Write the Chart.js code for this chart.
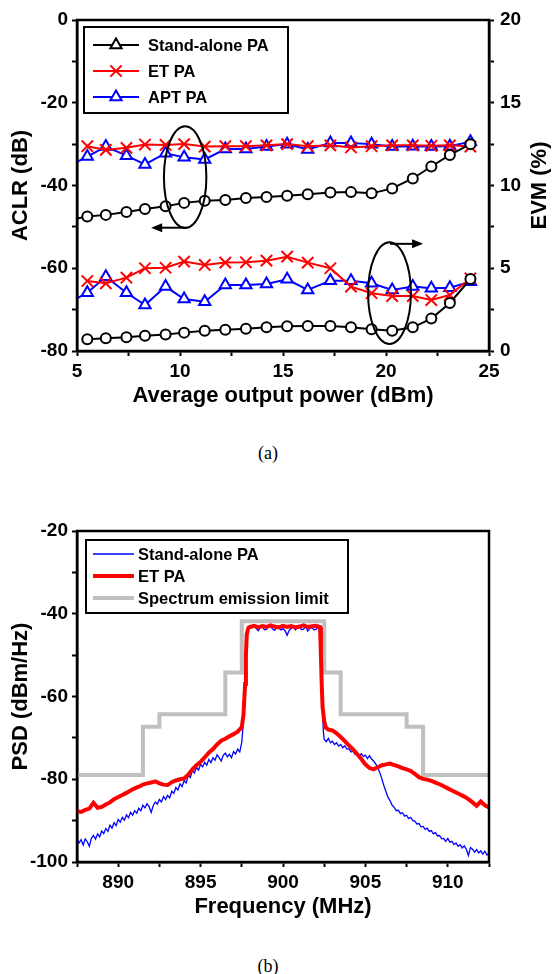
<!DOCTYPE html>
<html>
<head>
<meta charset="utf-8">
<script src="https://cdn.jsdelivr.net/npm/chart.js@4/dist/chart.umd.min.js"></script>
<style>
  html, body { margin: 0; padding: 0; background: #fff; }
  body { width: 552px; height: 974px; position: relative; overflow: hidden; }
  canvas { position: absolute; left: 0; }
  .cap { position: absolute; left: 0; width: 536px; text-align: center;
         font-family: "Liberation Serif", "Times New Roman", serif; font-size: 18px; color: #000; }
</style>
</head>
<body>
<canvas id="c1" width="552" height="430" style="top:0px"></canvas>
<div class="cap" style="top:443px">(a)</div>
<canvas id="c2" width="552" height="460" style="top:470px"></canvas>
<div class="cap" style="top:956px">(b)</div>
<script>
// ---------------- DATA: (a) ACLR / EVM vs output power ----------------
const power = [5.5, 6.4, 7.4, 8.3, 9.3, 10.2, 11.2, 12.2, 13.2, 14.2, 15.2, 16.2, 17.3, 18.3, 19.3, 20.3, 21.3, 22.2, 23.1, 24.1];
const powerEdge = [5.0].concat(power);   // lines that start at the left frame

const aclrStandalone = [-48.0, -47.5, -47.1, -46.4, -45.7, -45.0, -44.2, -43.7, -43.5, -43.0, -42.8, -42.5, -42.1, -41.7, -41.6, -41.9, -40.7, -38.3, -35.4, -32.6, -30.0];
const aclrET  = [-30.5, -31.4, -30.9, -30.1, -30.2, -30.0, -30.6, -30.5, -30.5, -30.3, -30.0, -30.5, -30.3, -30.8, -30.5, -30.3, -30.3, -30.4, -30.3, -30.6];
const aclrAPT = [-34.3, -33.0, -30.6, -32.8, -34.9, -32.2, -33.2, -33.7, -31.2, -31.2, -30.6, -30.0, -31.3, -29.7, -29.7, -30.0, -30.6, -30.5, -30.6, -30.5, -29.4];

const evmStandalone = [0.71, 0.77, 0.83, 0.92, 1.00, 1.11, 1.23, 1.29, 1.35, 1.43, 1.49, 1.51, 1.51, 1.43, 1.31, 1.23, 1.43, 1.96, 2.90, 4.35];
const evmET  = [4.23, 4.09, 4.43, 5.00, 5.03, 5.40, 5.20, 5.34, 5.36, 5.46, 5.70, 5.34, 5.00, 3.89, 3.49, 3.32, 3.32, 3.08, 3.38, 4.39];
const evmAPT = [3.18, 3.52, 4.49, 3.52, 2.78, 3.89, 3.14, 2.98, 3.99, 3.99, 4.05, 4.33, 3.69, 4.25, 4.25, 4.09, 3.69, 3.89, 3.79, 3.82, 4.19];

const seriesNames = ['Stand-alone PA', 'ET PA', 'APT PA'];

// ---------------- DATA: (b) PSD vs frequency ----------------
const psdFreq = [
  887.5, 887.75, 888, 888.25, 888.5, 888.75, 889, 889.25, 889.5, 889.75,
  890, 890.25, 890.5, 890.75, 891, 891.25, 891.5, 891.75, 892, 892.25,
  892.5, 892.75, 893, 893.25, 893.5, 893.75, 894, 894.25, 894.5, 894.75,
  895, 895.25, 895.5, 895.75, 896, 896.25, 896.5, 896.75, 897, 897.25, 897.5,
  897.6, 897.7, 897.75, 897.8, 897.9,
  898, 898.25, 898.5, 898.75, 899, 899.25, 899.5, 899.75, 900, 900.25,
  900.5, 900.75, 901, 901.25, 901.5, 901.75, 902, 902.25,
  902.3, 902.35, 902.4, 902.5,
  902.6, 902.75, 903, 903.25, 903.5, 903.75, 904, 904.25, 904.5, 904.75,
  905, 905.25, 905.5, 905.75, 906, 906.25, 906.5, 906.75, 907, 907.25,
  907.5, 907.75, 908, 908.25, 908.5, 908.75, 909, 909.25, 909.5, 909.75,
  910, 910.25, 910.5, 910.75, 911, 911.25, 911.5, 911.75, 912, 912.25, 912.5
];
const psdET = [
  -87.7, -87.9, -87.4, -87.1, -85.7, -86.9, -86.7, -86.1, -85.6, -84.8,
  -84.3, -83.8, -83.3, -82.7, -82.2, -81.8, -81.3, -81.0, -80.8, -80.5,
  -81.0, -81.3, -81.4, -80.7, -80.3, -80.0, -79.8, -78.9, -77.6, -76.6,
  -75.8, -74.7, -73.6, -72.7, -71.6, -70.7, -70.2, -69.6, -69.1, -68.5, -67.4,
  -64.5, -57.0, -50.0, -45.0, -43.4,
  -43.2, -42.9, -43.3, -43.0, -43.2, -42.8, -43.1, -43.3, -42.9, -43.2,
  -43.0, -43.3, -43.1, -42.8, -43.2, -43.0, -42.9, -43.2,
  -50.0, -57.0, -62.5, -66.0,
  -67.5, -68.0, -68.2, -68.9, -69.8, -70.8, -71.8, -72.8, -73.9, -75.1,
  -76.4, -77.3, -77.6, -77.1, -76.6, -76.4, -76.2, -76.6, -76.9, -77.3,
  -77.6, -78.0, -78.7, -79.5, -79.9, -80.1, -80.4, -80.8, -81.2, -81.7,
  -82.2, -82.7, -83.2, -83.7, -84.2, -84.8, -85.6, -86.4, -85.4, -86.3, -86.8
];
// Stand-alone PA trace, read as [frequency (MHz), PSD (dBm/Hz)] pairs
const psdStandalone = [
  [887.5,-94.3],[887.625,-95.4],[887.75,-94.6],[887.875,-95.9],[888,-94.4],[888.125,-95.1],[888.25,-96.2],[888.375,-94.2],
  [888.5,-93.6],[888.625,-94.5],[888.75,-93.2],[888.875,-93.9],[889,-92.5],[889.125,-93.1],[889.25,-91.9],[889.375,-92.6],
  [889.5,-91.1],[889.625,-91.8],[889.75,-90.5],[889.875,-91.2],[890,-89.7],[890.125,-90.4],[890.25,-89.2],[890.375,-89.9],
  [890.5,-88.6],[890.625,-89.3],[890.75,-88.0],[890.875,-88.7],[891,-87.6],[891.125,-88.2],[891.25,-87.0],[891.375,-87.6],
  [891.5,-86.3],[891.625,-86.9],[891.75,-85.9],[891.875,-86.6],[892,-88.0],[892.125,-86.4],[892.25,-85.5],[892.375,-86.0],
  [892.5,-84.9],[892.625,-85.5],[892.75,-84.2],[892.875,-84.9],[893,-83.9],[893.125,-84.5],[893.25,-82.9],[893.375,-83.4],
  [893.5,-82.0],[893.625,-82.6],[893.75,-81.1],[893.875,-81.8],[894,-80.3],[894.125,-80.9],[894.25,-79.1],[894.375,-79.6],
  [894.5,-77.9],[894.625,-78.5],[894.75,-77.1],[894.875,-77.8],[895,-76.4],[895.125,-77.0],[895.25,-75.9],[895.375,-76.6],
  [895.5,-75.2],[895.625,-76.0],[895.75,-74.8],[895.875,-75.4],[896,-74.1],[896.125,-74.8],[896.25,-75.6],[896.375,-74.2],
  [896.5,-73.7],[896.625,-74.6],[896.75,-74.0],[896.875,-74.8],[897,-73.3],[897.125,-73.9],[897.25,-72.7],[897.375,-73.4],
  [897.5,-71.0],[897.6,-66.0],[897.7,-58.0],[897.75,-51.0],[897.8,-45.5],[897.9,-43.8],
  [898,-43.5],[898.125,-42.9],[898.25,-43.0],[898.375,-43.6],[898.5,-44.1],[898.625,-43.3],[898.75,-43.2],[898.875,-43.9],
  [899,-43.8],[899.125,-43.0],[899.25,-43.1],[899.375,-43.7],[899.5,-44.0],[899.625,-43.2],[899.75,-43.4],[899.875,-43.9],
  [900,-43.6],[900.125,-44.1],[900.25,-45.2],[900.375,-44.0],[900.5,-43.5],[900.625,-43.1],[900.75,-43.9],[900.875,-43.4],
  [901,-43.2],[901.125,-43.8],[901.25,-43.7],[901.375,-43.0],[901.5,-44.2],[901.625,-43.6],[901.75,-43.3],[901.875,-43.9],
  [902,-43.8],[902.125,-43.2],[902.25,-44.3],[902.3,-49.0],[902.35,-56.0],[902.4,-63.0],[902.45,-68.5],
  [902.5,-70.4],[902.625,-70.9],[902.75,-70.1],[902.875,-71.2],[903,-70.8],[903.125,-71.6],[903.25,-71.2],[903.375,-72.0],
  [903.5,-71.6],[903.625,-72.4],[903.75,-71.9],[903.875,-72.7],[904,-72.6],[904.125,-73.4],[904.25,-73.2],[904.375,-74.0],
  [904.5,-73.8],[904.625,-74.6],[904.75,-73.8],[904.875,-74.5],[905,-74.2],[905.125,-75.0],[905.25,-74.3],[905.375,-75.1],
  [905.5,-75.6],[905.625,-76.3],[905.75,-77.2],[905.875,-78.4],[906,-79.9],[906.125,-81.6],[906.25,-83.0],[906.375,-84.4],
  [906.5,-85.2],[906.625,-86.3],[906.75,-86.8],[906.875,-87.6],[907,-87.5],[907.125,-88.3],[907.25,-88.1],[907.375,-88.9],
  [907.5,-88.7],[907.625,-89.5],[907.75,-89.2],[907.875,-90.0],[908,-90.1],[908.125,-90.8],[908.25,-90.7],[908.375,-91.5],
  [908.5,-91.4],[908.625,-92.1],[908.75,-91.8],[908.875,-92.6],[909,-92.4],[909.125,-93.2],[909.25,-92.9],[909.375,-93.7],
  [909.5,-93.6],[909.625,-94.4],[909.75,-94.3],[909.875,-95.0],[910,-94.3],[910.125,-95.2],[910.25,-95.0],[910.375,-95.8],
  [910.5,-95.4],[910.625,-96.2],[910.75,-95.8],[910.875,-96.6],[911,-96.1],[911.125,-96.9],[911.25,-98.4],[911.375,-96.5],
  [911.5,-96.9],[911.625,-97.6],[911.75,-97.0],[911.875,-97.8],[912,-97.3],[912.125,-98.1],[912.25,-97.4],[912.375,-98.3],
  [912.5,-97.9]
];
const maskFreq  = [887.5, 891.5, 892.5, 896.5, 897.5, 902.5, 903.5, 907.5, 908.5, 912.5];
const maskLevel = [-79.0, -67.3, -64.3, -54.2, -41.8, -54.2, -64.3, -67.3, -79.0, -79.0];
const psdNames = ['Stand-alone PA', 'ET PA', 'Spectrum emission limit'];

// ---------------- helpers ----------------
const FONT = '"Liberation Sans", Arial, Helvetica, sans-serif';
const tickFont  = { family: FONT, size: 19, weight: 'bold' };
const titleFont = { family: FONT, size: 22, weight: 'bold' };
const gridOpts = { display: true, drawOnChartArea: false, drawTicks: true, tickLength: 5, tickWidth: 2, tickColor: '#000', color: '#000' };
const borderOpts = { display: true, color: '#000', width: 2.5 };
const pts = (xs, ys) => ys.map((v, i) => ({ x: xs[i], y: v }));

function drawMarker(ctx, style, r, x, y) {
  ctx.beginPath();
  if (style === 'circle') {
    ctx.arc(x, y, r, 0, Math.PI * 2);
    ctx.fill(); ctx.stroke();
  } else if (style === 'triangle') {
    for (let k = 0; k < 3; k++) {
      const a = k * 2 * Math.PI / 3;
      const px = x + Math.sin(a) * r, py = y - Math.cos(a) * r;
      if (k === 0) ctx.moveTo(px, py); else ctx.lineTo(px, py);
    }
    ctx.closePath(); ctx.fill(); ctx.stroke();
  } else if (style === 'crossRot') {
    const d = r * Math.SQRT1_2;
    ctx.moveTo(x - d, y - d); ctx.lineTo(x + d, y + d);
    ctx.moveTo(x + d, y - d); ctx.lineTo(x - d, y + d);
    ctx.stroke();
  }
}

const frameBox = {
  id: 'frameBox',
  afterDraw(chart) {
    const { ctx, chartArea: a } = chart;
    ctx.save();
    ctx.strokeStyle = '#000'; ctx.lineWidth = 2.5;
    ctx.strokeRect(a.left, a.top, a.right - a.left, a.bottom - a.top);
    ctx.restore();
  }
};

const boxLegend = {
  id: 'boxLegend',
  afterDraw(chart, args, o) {
    if (!o || !o.items) return;
    const { ctx, chartArea: a } = chart;
    const x0 = a.left + o.dx, y0 = a.top + o.dy;
    ctx.save();
    ctx.fillStyle = '#fff'; ctx.fillRect(x0, y0, o.w, o.h);
    ctx.strokeStyle = '#000'; ctx.lineWidth = 2; ctx.strokeRect(x0, y0, o.w, o.h);
    o.items.forEach((idx, i) => {
      const ds = chart.data.datasets[idx];
      const y = y0 + o.rowTop + i * o.rowGap;
      ctx.strokeStyle = ds.borderColor; ctx.lineWidth = ds.legendLineWidth || ds.borderWidth;
      ctx.beginPath(); ctx.moveTo(x0 + o.lineX0, y); ctx.lineTo(x0 + o.lineX1, y); ctx.stroke();
      const ps = ds.legendPointStyle || ds.pointStyle;
      if (ps && o.markers) {
        ctx.fillStyle = '#fff'; ctx.strokeStyle = ds.borderColor; ctx.lineWidth = 2;
        drawMarker(ctx, ps, ds.legendPointRadius || 6, x0 + (o.lineX0 + o.lineX1) / 2, y);
      }
      ctx.fillStyle = '#000'; ctx.font = 'bold 16.5px ' + FONT;
      ctx.textAlign = 'left'; ctx.textBaseline = 'middle';
      ctx.fillText(ds.label, x0 + o.textX, y + 1);
    });
    ctx.restore();
  }
};

const annot = {
  id: 'annot',
  afterDatasetsDraw(chart, args, o) {
    if (!o || !o.ellipses) return;
    const { ctx } = chart;
    const xs = chart.scales.x, ys = chart.scales.y;
    ctx.save();
    ctx.strokeStyle = '#000'; ctx.fillStyle = '#000'; ctx.lineWidth = 2;
    o.ellipses.forEach(e => {
      const cx = xs.getPixelForValue(e.x), cy = ys.getPixelForValue(e.y);
      const rx = Math.abs(xs.getPixelForValue(e.x + e.rx) - cx);
      const ry = Math.abs(ys.getPixelForValue(e.y + e.ry) - cy);
      ctx.beginPath(); ctx.ellipse(cx, cy, rx, ry, 0, 0, Math.PI * 2); ctx.stroke();
    });
    o.arrows.forEach(ar => {
      const x1 = xs.getPixelForValue(ar.x1), x2 = xs.getPixelForValue(ar.x2), y = ys.getPixelForValue(ar.y);
      const dir = Math.sign(x2 - x1);
      ctx.beginPath(); ctx.moveTo(x1, y); ctx.lineTo(x2 - dir * 8, y); ctx.stroke();
      ctx.beginPath(); ctx.moveTo(x2, y); ctx.lineTo(x2 - dir * 11, y - 4.5); ctx.lineTo(x2 - dir * 11, y + 4.5); ctx.closePath(); ctx.fill();
    });
    ctx.restore();
  }
};

const rightTitle = {
  id: 'rightTitle',
  afterDraw(chart, args, o) {
    if (!o || !o.text) return;
    const { ctx, chartArea: a } = chart;
    ctx.save();
    ctx.translate(o.x, (a.top + a.bottom) / 2);
    ctx.rotate(-Math.PI / 2);
    ctx.fillStyle = '#000'; ctx.font = 'bold 22px ' + FONT;
    ctx.textAlign = 'center'; ctx.textBaseline = 'middle';
    ctx.fillText(o.text, 0, 0);
    ctx.restore();
  }
};

// ---------------- Chart (a) ----------------
const edgeR = r => ctx => (ctx.dataIndex === 0 ? 0 : r);
new Chart(document.getElementById('c1'), {
  type: 'line',
  data: {
    datasets: [
      { label: seriesNames[0], yAxisID: 'y', data: pts(powerEdge, aclrStandalone), borderColor: '#000', borderWidth: 2,
        pointStyle: 'circle', pointRadius: edgeR(5), pointBackgroundColor: '#fff', pointBorderColor: '#000', pointBorderWidth: 2,
        legendPointStyle: 'triangle', legendPointRadius: 6.5 },
      { label: seriesNames[1], yAxisID: 'y', data: pts(power, aclrET), borderColor: '#ff0000', borderWidth: 2,
        pointStyle: 'crossRot', pointRadius: 8, pointBorderColor: '#ff0000', pointBackgroundColor: '#ff0000', pointBorderWidth: 2,
        legendPointRadius: 8 },
      { label: seriesNames[2], yAxisID: 'y', data: pts(powerEdge, aclrAPT), borderColor: '#0000ff', borderWidth: 2,
        pointStyle: 'triangle', pointRadius: edgeR(6.5), pointBackgroundColor: '#fff', pointBorderColor: '#0000ff', pointBorderWidth: 2,
        legendPointRadius: 6.5 },
      { label: seriesNames[0] + ' EVM', yAxisID: 'y2', data: pts(power, evmStandalone), borderColor: '#000', borderWidth: 2,
        pointStyle: 'circle', pointRadius: 5, pointBackgroundColor: '#fff', pointBorderColor: '#000', pointBorderWidth: 2 },
      { label: seriesNames[1] + ' EVM', yAxisID: 'y2', data: pts(power, evmET), borderColor: '#ff0000', borderWidth: 2,
        pointStyle: 'crossRot', pointRadius: 8, pointBorderColor: '#ff0000', pointBackgroundColor: '#ff0000', pointBorderWidth: 2 },
      { label: seriesNames[2] + ' EVM', yAxisID: 'y2', data: pts(powerEdge, evmAPT), borderColor: '#0000ff', borderWidth: 2,
        pointStyle: 'triangle', pointRadius: edgeR(6.5), pointBackgroundColor: '#fff', pointBorderColor: '#0000ff', pointBorderWidth: 2 }
    ]
  },
  options: {
    responsive: false, animation: false, events: [],
    layout: { padding: { top: 20, left: 0, right: 0, bottom: 21 } },
    plugins: {
      legend: { display: false }, tooltip: { enabled: false },
      boxLegend: { dx: 7, dy: 7, w: 204, h: 86, rowTop: 18, rowGap: 26, lineX0: 9, lineX1: 55, textX: 64, markers: true, items: [0, 1, 2] },
      annot: {
        ellipses: [ { x: 10.25, y: -38.0, rx: 1.03, ry: 12.3 }, { x: 20.17, y: -66.0, rx: 1.04, ry: 12.3 } ],
        arrows: [ { x1: 10.3, x2: 8.6, y: -50.2 }, { x1: 20.2, x2: 21.8, y: -54.1 } ]
      },
      rightTitle: { text: 'EVM (%)', x: 540 }
    },
    scales: {
      x: { type: 'linear', position: 'bottom', min: 5, max: 25,
        ticks: { stepSize: 2.5, autoSkip: false, maxRotation: 0, padding: 4, color: '#000', font: tickFont,
                 callback: v => (v % 5 === 0 ? String(v) : '') },
        grid: gridOpts, border: borderOpts,
        title: { display: true, text: 'Average output power (dBm)', color: '#000', font: titleFont, padding: 0 },
        afterFit: s => { s.height = 58; } },
      y: { type: 'linear', position: 'left', min: -80, max: 0,
        ticks: { stepSize: 10, autoSkip: false, padding: 4, color: '#000', font: tickFont,
                 callback: v => (v % 20 === 0 ? String(v) : '') },
        grid: gridOpts, border: borderOpts,
        title: { display: true, text: 'ACLR (dB)', color: '#000', font: titleFont, padding: { top: 8, bottom: 0 } },
        afterFit: s => { s.width = 77; } },
      y2: { type: 'linear', position: 'right', min: 0, max: 20,
        ticks: { stepSize: 2.5, autoSkip: false, padding: 6, color: '#000', font: tickFont,
                 callback: v => (v % 5 === 0 ? String(v) : '') },
        grid: gridOpts, border: borderOpts,
        title: { display: false, text: 'EVM (%)' },
        afterFit: s => { s.width = 63; } }
    }
  },
  plugins: [annot, frameBox, boxLegend, rightTitle]
});

// ---------------- Chart (b) ----------------
new Chart(document.getElementById('c2'), {
  type: 'line',
  data: {
    datasets: [
      { label: psdNames[1], data: pts(psdFreq, psdET), borderColor: '#ff0000', borderWidth: 4, pointRadius: 0, tension: 0 },
      { label: psdNames[0], data: psdStandalone.map(p => ({ x: p[0], y: p[1] })), borderColor: '#0000ff', borderWidth: 1.3, legendLineWidth: 1.5, pointRadius: 0, tension: 0 },
      { label: psdNames[2], data: pts(maskFreq, maskLevel), borderColor: '#c0c0c0', borderWidth: 4, pointRadius: 0, stepped: 'before' }
    ]
  },
  options: {
    responsive: false, animation: false, events: [],
    layout: { padding: { top: 61, left: 0, right: 63, bottom: 10 } },
    plugins: {
      legend: { display: false }, tooltip: { enabled: false },
      boxLegend: { dx: 9, dy: 9, w: 262, h: 73, rowTop: 14, rowGap: 22, lineX0: 7, lineX1: 48, textX: 52, markers: false, items: [1, 0, 2] }
    },
    scales: {
      x: { type: 'linear', position: 'bottom', min: 887.5, max: 912.5,
        ticks: { stepSize: 2.5, autoSkip: false, maxRotation: 0, padding: 4, color: '#000', font: tickFont,
                 callback: v => (v % 5 === 0 ? String(v) : '') },
        grid: gridOpts, border: borderOpts,
        title: { display: true, text: 'Frequency (MHz)', color: '#000', font: titleFont, padding: 0 },
        afterFit: s => { s.height = 58; } },
      y: { type: 'linear', position: 'left', min: -100, max: -20,
        ticks: { stepSize: 10, autoSkip: false, padding: 4, color: '#000', font: tickFont,
                 callback: v => (v % 20 === 0 ? String(v) : '') },
        grid: gridOpts, border: borderOpts,
        title: { display: true, text: 'PSD (dBm/Hz)', color: '#000', font: titleFont, padding: { top: 8, bottom: 0 } },
        afterFit: s => { s.width = 77; } }
    }
  },
  plugins: [frameBox, boxLegend]
});
</script>
</body>
</html>
